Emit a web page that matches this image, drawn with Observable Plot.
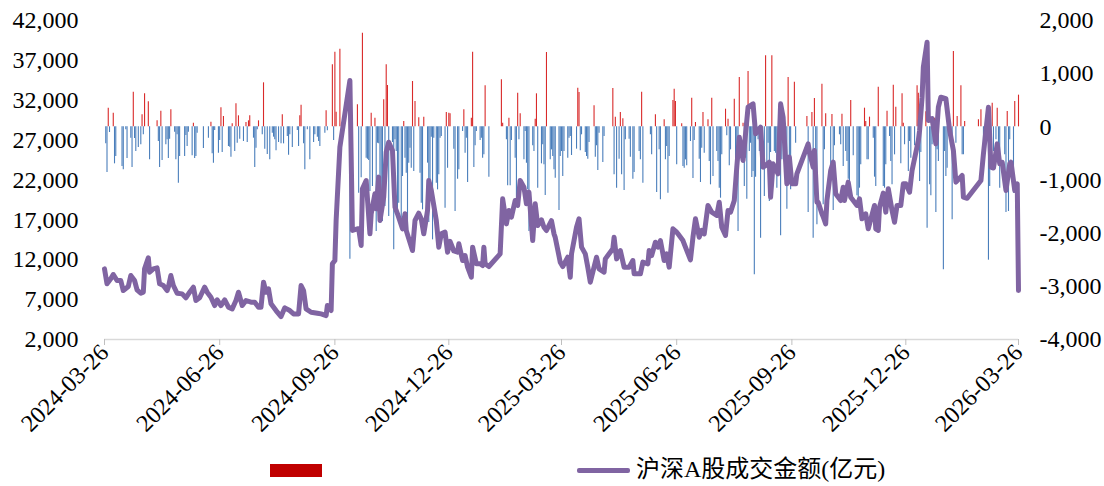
<!DOCTYPE html>
<html>
<head>
<meta charset="utf-8">
<script src="https://cdn.jsdelivr.net/npm/d3@7"></script>
<script src="https://cdn.jsdelivr.net/npm/@observablehq/plot@0.6"></script>
<style>
  html, body { margin: 0; padding: 0; background: #fff; }
  #wrap { width: 1104px; height: 486px; position: relative; overflow: hidden; }
  #legend { position: relative; height: 34px; width: 1104px; }
  #legend span { position: absolute; display: block; }
</style>
</head>
<body>
<div id="wrap">
  <div id="chart"></div>
  <div id="legend">
    <span style="left:270px;top:12px;width:52px;height:13px;background:#c00000"></span>
    <span style="left:577px;top:16px;width:53px;height:5px;background:#8064a2;border-radius:2px"></span>
    <span style="left:636px;top:3px;font-size:24px;line-height:28px;font-family:'Liberation Serif','Noto Sans CJK SC',serif;color:#000;white-space:nowrap">沪深A股成交金额(亿元)</span>
  </div>
</div>
<script>
// ---- data (亿元) ----
const xTickDates = ["2024-03-26","2024-06-26","2024-09-26","2024-12-26","2025-03-26","2025-06-26","2025-09-26","2025-12-26","2026-03-26"];
const leftTicks = [2000, 7000, 12000, 17000, 22000, 27000, 32000, 37000, 42000];
const rightTicks = [-4000, -3000, -2000, -1000, 0, 1000, 2000];

// 沪深A股成交金额 (left axis)
const turnover = [
["2024-03-26",10860],["2024-03-28",8980],["2024-03-31",9610],["2024-04-02",10150],["2024-04-05",9400],["2024-04-08",9400],["2024-04-10",8140],["2024-04-14",8640],["2024-04-16",10020],["2024-04-19",9400],["2024-04-21",8230],["2024-04-24",7800],["2024-04-26",7930],["2024-04-27",10860],["2024-04-30",12240],["2024-05-01",10440],["2024-05-04",10860],["2024-05-07",10990],["2024-05-09",8980],["2024-05-12",8770],["2024-05-15",8140],["2024-05-16",8560],["2024-05-18",10020],["2024-05-20",8770],["2024-05-23",7800],["2024-05-27",7720],["2024-05-30",7230],["2024-06-02",7930],["2024-06-05",8560],["2024-06-07",6890],["2024-06-10",7230],["2024-06-14",8560],["2024-06-16",7930],["2024-06-19",7300],["2024-06-22",6260],["2024-06-24",6980],["2024-06-27",6260],["2024-06-30",6980],
["2024-07-03",6050],["2024-07-06",5840],["2024-07-09",6890],["2024-07-11",7930],["2024-07-14",6260],["2024-07-17",6890],["2024-07-21",6680],["2024-07-24",6680],["2024-07-27",6050],["2024-07-29",6050],["2024-07-31",9190],["2024-08-02",7930],["2024-08-04",8350],["2024-08-06",6470],["2024-08-10",5630],["2024-08-14",4880],["2024-08-17",5970],["2024-08-21",5630],["2024-08-24",5210],["2024-08-28",5210],["2024-08-30",8770],["2024-09-01",8140],["2024-09-03",5840],["2024-09-07",5420],["2024-09-12",5300],["2024-09-15",5210],["2024-09-19",5000],["2024-09-20",6260],["2024-09-23",5630],["2024-09-24",11490],["2024-09-26",11900],["2024-09-27",16920],["2024-09-30",26110],
["2024-10-08",34480],["2024-10-10",15670],["2024-10-14",15880],["2024-10-15",15880],["2024-10-17",13790],["2024-10-18",20890],["2024-10-21",21940],["2024-10-24",15250],["2024-10-25",17760],["2024-10-28",20270],["2024-10-29",18390],["2024-10-31",22360],["2024-11-01",16920],["2024-11-04",19840],["2024-11-06",25490],["2024-11-08",26740],["2024-11-11",25700],["2024-11-13",18600],["2024-11-15",17760],["2024-11-19",15880],["2024-11-21",17760],["2024-11-22",15670],["2024-11-27",13160],["2024-11-29",16920],["2024-12-02",17840],["2024-12-04",17100],["2024-12-06",15250],["2024-12-09",18180],["2024-12-10",21940],["2024-12-12",20690],["2024-12-16",16920],["2024-12-18",13580],["2024-12-20",15250],["2024-12-23",15460],["2024-12-25",12950],["2024-12-27",14300],["2024-12-30",13100],
["2025-01-02",12950],["2025-01-03",14000],["2025-01-06",11900],["2025-01-08",12530],["2025-01-10",11070],["2025-01-13",9810],["2025-01-14",13580],["2025-01-17",11490],["2025-01-20",11500],["2025-01-22",11280],["2025-01-23",13580],["2025-01-24",11490],["2025-01-27",11150],["2025-02-05",12740],["2025-02-07",19640],["2025-02-10",16500],["2025-02-12",18180],["2025-02-14",17340],["2025-02-17",19430],["2025-02-19",18810],["2025-02-21",21940],["2025-02-24",21100],["2025-02-26",19010],["2025-02-28",20480],["2025-03-03",14410],["2025-03-05",19010],["2025-03-07",16290],["2025-03-10",17000],["2025-03-12",16080],["2025-03-14",15670],["2025-03-18",16900],["2025-03-20",15250],["2025-03-21",14800],["2025-03-25",11700],["2025-03-27",11150],["2025-03-31",12320],
["2025-04-02",9810],["2025-04-03",12740],["2025-04-07",16080],["2025-04-09",17130],["2025-04-11",13580],["2025-04-14",12740],["2025-04-16",11070],["2025-04-18",9190],["2025-04-21",11070],["2025-04-23",12320],["2025-04-25",10860],["2025-04-29",10440],["2025-04-30",12110],["2025-05-06",13370],["2025-05-07",14830],["2025-05-09",12110],["2025-05-12",13160],["2025-05-15",11070],["2025-05-19",11070],["2025-05-22",11900],["2025-05-23",10230],["2025-05-28",10230],["2025-05-30",11700],["2025-06-03",11490],["2025-06-04",13160],["2025-06-06",12530],["2025-06-09",14200],["2025-06-11",13580],["2025-06-13",14400],["2025-06-16",11900],["2025-06-18",12740],["2025-06-20",11070],["2025-06-23",15880],["2025-06-26",15460],["2025-06-27",15250],
["2025-07-01",14410],["2025-07-03",13580],["2025-07-07",11990],["2025-07-09",14830],["2025-07-11",17130],["2025-07-14",14830],["2025-07-16",15700],["2025-07-18",15250],["2025-07-21",18810],["2025-07-24",17970],["2025-07-28",17550],["2025-07-30",19220],["2025-08-01",16080],["2025-08-04",15040],["2025-08-06",18180],["2025-08-08",17970],["2025-08-11",19430],["2025-08-13",23610],["2025-08-15",27370],["2025-08-18",24450],["2025-08-20",27790],["2025-08-22",31130],["2025-08-26",31550],["2025-08-28",27790],["2025-08-29",28000],["2025-09-01",28620],["2025-09-03",23610],["2025-09-05",23800],["2025-09-08",24240],["2025-09-09",19840],["2025-09-11",24030],["2025-09-15",22780],["2025-09-17",31550],["2025-09-19",29870],["2025-09-22",21520],["2025-09-24",24870],["2025-09-26",21520],["2025-09-29",21520],["2025-09-30",22780],
["2025-10-09",26530],["2025-10-10",25490],["2025-10-13",23610],["2025-10-14",25700],["2025-10-16",19220],["2025-10-17",19200],["2025-10-20",17760],["2025-10-21",17400],["2025-10-23",16500],["2025-10-24",19430],["2025-10-27",23190],["2025-10-29",24240],["2025-10-31",20270],["2025-11-04",19430],["2025-11-06",21100],["2025-11-07",19430],["2025-11-10",21730],["2025-11-12",19840],["2025-11-14",19430],["2025-11-17",18810],["2025-11-19",19640],["2025-11-21",17130],["2025-11-24",17760],["2025-11-26",15880],["2025-12-01",18810],["2025-12-02",15880],["2025-12-04",15670],["2025-12-05",18600],["2025-12-08",20360],["2025-12-10",17970],["2025-12-12",20900],["2025-12-15",18180],["2025-12-17",16710],["2025-12-19",18810],["2025-12-22",18800],["2025-12-24",21520],["2025-12-26",21520],["2025-12-29",20480],["2025-12-31",23190],
["2026-01-05",26950],["2026-01-06",28200],["2026-01-08",32380],["2026-01-09",36150],["2026-01-12",39280],["2026-01-13",29460],["2026-01-16",29700],["2026-01-19",26530],["2026-01-21",31130],["2026-01-23",32380],["2026-01-27",32200],["2026-01-30",28200],["2026-02-02",25700],["2026-02-04",21730],["2026-02-09",22570],["2026-02-10",19850],["2026-02-13",19700],["2026-02-24",21940],["2026-02-26",25280],["2026-03-02",31130],["2026-03-04",23610],["2026-03-06",23500],["2026-03-09",26530],["2026-03-11",24030],["2026-03-13",24200],["2026-03-16",20690],["2026-03-19",24030],["2026-03-20",24240],["2026-03-23",20690],["2026-03-25",21520],["2026-03-26",8140]
];

// daily net flow bars (right axis)
const netFlow = [
["2024-03-27",-320],["2024-03-28",-859],["2024-03-29",351],["2024-03-30",-107],["2024-04-02",257],["2024-04-03",-696],["2024-04-04",-558],["2024-04-09",-746],["2024-04-10",-809],["2024-04-12",-56],["2024-04-13",-596],["2024-04-16",-213],["2024-04-17",-765],["2024-04-18",652],["2024-04-19",-219],["2024-04-20",-464],["2024-04-22",-389],["2024-04-24",-339],["2024-04-25",226],["2024-04-26",-150],["2024-04-27",621],["2024-04-30",470],["2024-05-01",-621],["2024-05-07",113],["2024-05-08",-276],["2024-05-09",-765],["2024-05-10",295],["2024-05-11",-633],["2024-05-14",-339],["2024-05-15",-245],["2024-05-16",-596],["2024-05-17",-232],["2024-05-18",320],["2024-05-21",-100],["2024-05-22",-621],["2024-05-23",-150],["2024-05-24",-1060],["2024-05-25",-558],["2024-05-29",-558],["2024-05-30",-163],["2024-05-31",-370],["2024-06-01",-100],["2024-06-04",-545],["2024-06-05",69],["2024-06-06",-596],["2024-06-07",-558],["2024-06-08",-119],["2024-06-13",-408],["2024-06-17",-213],["2024-06-19",88],["2024-06-20",-508],["2024-06-21",-683],["2024-06-22",-69],["2024-06-25",-495],["2024-06-26",-257],["2024-06-27",357],["2024-06-28",-483],["2024-06-29",194],
["2024-07-03",-370],["2024-07-04",-383],["2024-07-05",-571],["2024-07-06",56],["2024-07-08",-464],["2024-07-09",433],["2024-07-10",-307],["2024-07-11",207],["2024-07-12",-232],["2024-07-15",-276],["2024-07-17",82],["2024-07-18",-295],["2024-07-19",113],["2024-07-20",207],["2024-07-23",-213],["2024-07-24",-765],["2024-07-25",-401],["2024-07-26",-56],["2024-07-27",113],["2024-07-30",-150],["2024-07-31",828],["2024-08-01",-420],["2024-08-03",-520],["2024-08-05",-621],["2024-08-07",-119],["2024-08-08",-194],["2024-08-09",-245],["2024-08-10",-451],["2024-08-12",-295],["2024-08-14",-320],["2024-08-15",226],["2024-08-16",-320],["2024-08-19",-182],["2024-08-20",-533],["2024-08-21",-150],["2024-08-23",-389],["2024-08-27",-69],["2024-08-28",-370],["2024-08-29",207],["2024-08-30",408],["2024-09-01",-320],["2024-09-02",-809],["2024-09-04",-56],["2024-09-06",-621],["2024-09-09",-295],["2024-09-10",-150],["2024-09-12",-194],["2024-09-13",-276],["2024-09-14",-370],["2024-09-18",-119],["2024-09-19",301],["2024-09-20",-75],["2024-09-24",1166],["2024-09-25",-257],["2024-09-26",1404],["2024-09-27",276],
["2024-09-30",1461],["2024-10-08",-2489],["2024-10-14",414],["2024-10-15",-1248],["2024-10-17",-959],["2024-10-18",1762],["2024-10-21",-589],["2024-10-22",-608],["2024-10-23",-633],["2024-10-24",-1216],["2024-10-25",257],["2024-10-26",-1122],["2024-10-28",163],["2024-10-29",-1969],["2024-10-30",-307],["2024-10-31",-320],["2024-11-01",-1812],["2024-11-02",-1499],["2024-11-03",-1781],["2024-11-04",508],["2024-11-05",-1499],["2024-11-06",1166],["2024-11-07",777],["2024-11-08",-1687],["2024-11-11",-295],["2024-11-12",-2314],["2024-11-13",-245],["2024-11-14",-464],["2024-11-15",-1718],["2024-11-16",-1436],["2024-11-18",-1843],["2024-11-19",-934],["2024-11-20",100],["2024-11-21",-589],["2024-11-22",-872],["2024-11-23",-2063],["2024-11-24",-683],["2024-11-25",-401],["2024-11-26",-777],["2024-11-27",853],["2024-11-28",-840],["2024-11-29",477],["2024-12-02",169],["2024-12-03",-872],["2024-12-04",-1436],["2024-12-05",-1561],["2024-12-06",182],["2024-12-09",-683],["2024-12-10",-1800],["2024-12-11",-1185],["2024-12-12",-194],["2024-12-13",-2126],["2024-12-14",-213],["2024-12-16",-1060],["2024-12-17",-1185],["2024-12-18",-903],["2024-12-19",-213],["2024-12-20",-182],["2024-12-23",-1530],["2024-12-24",270],["2024-12-25",-777],["2024-12-26",257],["2024-12-27",245],["2024-12-30",-420],
["2024-12-31",-1593],["2025-01-02",-984],["2025-01-03",-809],["2025-01-06",-88],["2025-01-07",320],["2025-01-08",-495],["2025-01-09",-213],["2025-01-10",-1047],["2025-01-13",163],["2025-01-14",1404],["2025-01-15",-765],["2025-01-16",-357],["2025-01-17",-88],["2025-01-20",-257],["2025-01-21",-213],["2025-01-22",-589],["2025-01-23",-527],["2025-01-24",771],["2025-01-27",-947],["2025-02-06",884],["2025-02-07",69],["2025-02-10",-245],["2025-02-11",-1110],["2025-02-12",163],["2025-02-13",-1110],["2025-02-14",-257],["2025-02-17",-589],["2025-02-18",-1342],["2025-02-19",633],["2025-02-20",-245],["2025-02-21",245],["2025-02-24",-621],["2025-02-25",-88],["2025-02-26",-683],["2025-02-27",-1185],["2025-02-28",-1969],["2025-03-03",-357],["2025-03-04",-464],["2025-03-05",144],["2025-03-06",621],["2025-03-07",-1154],["2025-03-10",-696],["2025-03-11",-339],["2025-03-12",-715],["2025-03-13",-1292],["2025-03-14",1398],["2025-03-17",-621],["2025-03-18",-433],["2025-03-19",-558],["2025-03-20",-809],["2025-03-21",-966],["2025-03-24",-1574],["2025-03-25",-558],["2025-03-26",-464],["2025-03-27",-934],["2025-03-28",-464],["2025-03-31",-589],
["2025-04-01",-213],["2025-04-02",-182],["2025-04-03",-539],["2025-04-07",-420],["2025-04-08",727],["2025-04-09",646],["2025-04-10",-451],["2025-04-11",-150],["2025-04-14",-483],["2025-04-15",-558],["2025-04-16",-608],["2025-04-17",-295],["2025-04-21",395],["2025-04-22",-571],["2025-04-23",-357],["2025-04-24",-821],["2025-04-25",-119],["2025-04-28",-671],["2025-04-29",-182],["2025-05-06",721],["2025-05-07",-903],["2025-05-08",182],["2025-05-09",-1154],["2025-05-11",-608],["2025-05-12",270],["2025-05-13",-903],["2025-05-14",150],["2025-05-15",-1198],["2025-05-16",-245],["2025-05-19",-232],["2025-05-20",-571],["2025-05-22",-984],["2025-05-23",-859],["2025-05-27",-464],["2025-05-28",-621],["2025-05-29",652],["2025-05-30",-1060],["2025-06-05",-150],["2025-06-06",-527],["2025-06-09",226],["2025-06-10",-1235],["2025-06-12",-433],["2025-06-13",-1373],["2025-06-16",132],["2025-06-17",-621],["2025-06-18",-370],["2025-06-19",-1248],["2025-06-20",-558],["2025-06-23",495],["2025-06-24",709],["2025-06-25",477],["2025-06-26",-715],["2025-06-30",56],
["2025-07-01",-746],["2025-07-02",-777],["2025-07-03",-621],["2025-07-04",-734],["2025-07-07",-276],["2025-07-08",539],["2025-07-09",-972],["2025-07-10",-257],["2025-07-11",82],["2025-07-14",-608],["2025-07-15",-1047],["2025-07-16",-401],["2025-07-17",270],["2025-07-18",-495],["2025-07-21",132],["2025-07-22",-652],["2025-07-23",-1091],["2025-07-24",539],["2025-07-25",-934],["2025-07-28",-464],["2025-07-29",-652],["2025-07-30",-1154],["2025-07-31",-1342],["2025-08-01",-527],["2025-08-04",332],["2025-08-05",-169],["2025-08-06",144],["2025-08-07",-734],["2025-08-08",-433],["2025-08-11",520],["2025-08-12",-608],["2025-08-13",-809],["2025-08-14",-1969],["2025-08-15",928],["2025-08-18",69],["2025-08-19",-1122],["2025-08-20",-589],["2025-08-21",-1361],["2025-08-22",1041],["2025-08-23",-464],["2025-08-24",-307],["2025-08-25",-953],["2025-08-26",-840],["2025-08-27",-2784],["2025-08-28",-947],["2025-08-30",-245],["2025-08-31",-464],["2025-09-01",-2094],["2025-09-04",-1310],["2025-09-05",1336],["2025-09-06",-734],["2025-09-07",-307],["2025-09-08",-1404],["2025-09-09",-483],["2025-09-10",1336],["2025-09-12",-464],["2025-09-13",-495],["2025-09-14",-1154],["2025-09-15",-903],["2025-09-17",-2050],["2025-09-18",-621],["2025-09-21",-339],["2025-09-22",-1549],["2025-09-23",928],["2025-09-24",-621],["2025-09-25",-1185],["2025-09-28",840],["2025-09-29",-307],
["2025-10-08",194],["2025-10-09",-1611],["2025-10-12",270],["2025-10-13",-2094],["2025-10-14",533],["2025-10-15",-1091],["2025-10-16",-1843],["2025-10-20",803],["2025-10-21",-1467],["2025-10-22",-433],["2025-10-23",245],["2025-10-27",-872],["2025-10-28",232],["2025-10-29",-1574],["2025-10-30",-357],["2025-11-03",-150],["2025-11-04",-339],["2025-11-05",238],["2025-11-06",-746],["2025-11-08",-464],["2025-11-09",-652],["2025-11-10",-984],["2025-11-11",-1342],["2025-11-12",495],["2025-11-14",-545],["2025-11-17",-1298],["2025-11-18",-1342],["2025-11-19",-1154],["2025-11-20",-715],["2025-11-23",351],["2025-11-24",100],["2025-11-25",-621],["2025-11-26",-621],["2025-11-27",182],["2025-11-30",-213],["2025-12-01",-947],["2025-12-02",-1122],["2025-12-04",746],["2025-12-08",-1122],["2025-12-09",-1154],["2025-12-10",-715],["2025-12-11",295],["2025-12-13",-182],["2025-12-14",-652],["2025-12-15",-1091],["2025-12-16",784],["2025-12-17",-527],["2025-12-18",370],["2025-12-22",-696],["2025-12-23",621],["2025-12-24",69],["2025-12-25",-339],["2025-12-28",-840],["2025-12-29",-276],["2025-12-30",-589],
["2026-01-02",-357],["2026-01-04",771],["2026-01-05",633],["2026-01-06",-1028],["2026-01-07",-483],["2026-01-11",282],["2026-01-12",-1906],["2026-01-14",-1091],["2026-01-15",-1298],["2026-01-16",-339],["2026-01-18",163],["2026-01-19",-1611],["2026-01-20",-433],["2026-01-21",-652],["2026-01-25",-2690],["2026-01-26",-464],["2026-01-27",-934],["2026-01-28",-777],["2026-02-01",-1749],["2026-02-02",1417],["2026-02-04",-307],["2026-02-05",194],["2026-02-08",771],["2026-02-09",-527],["2026-02-10",-527],["2026-02-11",100],["2026-02-22",132],["2026-02-24",320],["2026-02-26",-357],["2026-03-02",-2508],["2026-03-03",-1122],["2026-03-04",-777],["2026-03-05",445],["2026-03-06",-464],["2026-03-08",-245],["2026-03-09",351],["2026-03-10",-558],["2026-03-11",-1154],["2026-03-15",-527],["2026-03-16",-1611],["2026-03-17",288],["2026-03-18",-1593],["2026-03-19",-245],["2026-03-22",-1248],["2026-03-23",477],["2026-03-26",596]
];

// ---- chart ----
const parse = d3.utcParse("%Y-%m-%d");
const L0 = 2000, L1 = 42000, R0 = -4000, R1 = 2000;
const toLeft = v => L0 + (v - R0) * (L1 - L0) / (R1 - R0);
const toRight = y => R0 + (y - L0) * (R1 - R0) / (L1 - L0);
const fmt = v => Math.round(v).toLocaleString("en-US");

const RED = "#d92a2a", BLUE = "#4a7ebb", PURPLE = "#8064a2";

const chart = Plot.plot({
  width: 1104,
  height: 452,
  marginTop: 20,
  marginBottom: 113,
  marginLeft: 104,
  marginRight: 86,
  style: { fontFamily: "'Liberation Serif','Times New Roman',serif", fontSize: "24px", color: "#000", background: "#fff", overflow: "visible" },
  x: { type: "utc", domain: [parse(xTickDates[0]), parse(xTickDates[xTickDates.length - 1])], label: null },
  y: { domain: [L0, L1], label: null },
  marks: [
    Plot.ruleX(netFlow, {
      x: d => parse(d[0]),
      y1: () => toLeft(0),
      y2: d => toLeft(d[1]),
      stroke: d => d[1] >= 0 ? RED : BLUE,
      strokeWidth: 1.1
    }),
    Plot.ruleY([L0], { stroke: "#d9d9d9", strokeWidth: 1.5 }),
    Plot.line(turnover, {
      x: d => parse(d[0]),
      y: d => d[1],
      stroke: PURPLE,
      strokeWidth: 5,
      strokeLinejoin: "round",
      strokeLinecap: "round"
    }),
    Plot.axisY(leftTicks, { anchor: "left", tickSize: 0, tickPadding: 26, tickFormat: fmt }),
    Plot.axisY(rightTicks.map(toLeft), { anchor: "right", tickSize: 0, tickPadding: 21, tickFormat: d => fmt(toRight(d)) }),
    Plot.axisX(xTickDates.map(parse), { anchor: "bottom", tickRotate: -45, tickSize: 6, tickPadding: 3, stroke: "#bfbfbf", tickFormat: d3.utcFormat("%Y-%m-%d") })
  ]
});
document.getElementById("chart").appendChild(chart);
</script>
</body>
</html>
